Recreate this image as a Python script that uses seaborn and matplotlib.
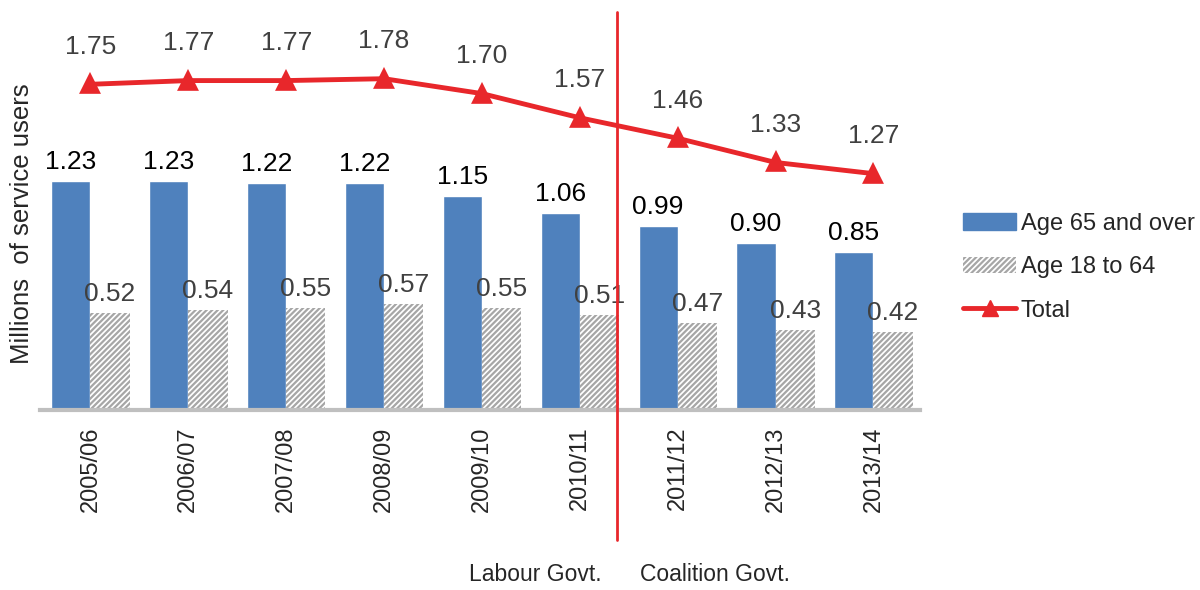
import matplotlib
matplotlib.use("Agg")
import matplotlib.pyplot as plt
import seaborn as sns
import pandas as pd
from matplotlib.patches import Patch
from matplotlib.lines import Line2D

years = ['2005/06', '2006/07', '2007/08', '2008/09', '2009/10',
         '2010/11', '2011/12', '2012/13', '2013/14']
age_65_over = [1.23, 1.23, 1.22, 1.22, 1.15, 1.06, 0.99, 0.90, 0.85]
age_18_64 = [0.52, 0.54, 0.55, 0.57, 0.55, 0.51, 0.47, 0.43, 0.42]
total = [1.75, 1.77, 1.77, 1.78, 1.70, 1.57, 1.46, 1.33, 1.27]
groups = ['Age 65 and over', 'Age 18 to 64']

blue = '#4F81BD'
red = '#E8272B'
hatch_grey = '#A6A6A6'
label_grey = '#404040'

df = pd.DataFrame({
    'year': years * 2,
    'group': [groups[0]] * len(years) + [groups[1]] * len(years),
    'value': age_65_over + age_18_64,
})

sns.set_style('white')
plt.rcParams['font.family'] = ['Liberation Sans', 'DejaVu Sans']
plt.rcParams['hatch.linewidth'] = 1.6

fig = plt.figure(figsize=(12, 5.9), dpi=100)
ax = fig.add_axes([0.033, 0.305, 0.734, 0.631])

sns.barplot(data=df, x='year', y='value', hue='group', order=years,
            hue_order=groups, palette=[blue, 'white'], width=0.8,
            saturation=1, legend=False, ax=ax)

# hatch the second series
for bar in ax.containers[1]:
    bar.set_hatch('//////')
    bar.set_edgecolor(hatch_grey)
    bar.set_linewidth(0)

ax.bar_label(ax.containers[0], labels=[f'{v:.2f}' for v in age_65_over],
             padding=5, fontsize=19, color='black')
ax.bar_label(ax.containers[1], labels=[f'{v:.2f}' for v in age_18_64],
             padding=5, fontsize=19, color=label_grey)

sns.pointplot(x=years, y=total, order=years, color=red, markers='^',
              linestyles='-', linewidth=3.5, markersize=12, ax=ax)

for i, v in enumerate(total):
    ax.annotate(f'{v:.2f}', (i, v), xytext=(0, 27), textcoords='offset points',
                ha='center', va='center', fontsize=19, color=label_grey)

ax.set_xlim(-0.52, 8.48)
ax.set_ylim(0, 2.0)
ax.set_yticks([])
ax.set_xlabel('')
ax.set_ylabel('Millions  of service users', fontsize=18.5, labelpad=4)
ax.tick_params(axis='x', labelrotation=90, labelsize=17, length=0, pad=12)
for side in ['top', 'right', 'left']:
    ax.spines[side].set_visible(False)
ax.spines['bottom'].set_color('#BFBFBF')
ax.spines['bottom'].set_linewidth(3)

# change of government marker
ax.plot([5.38, 5.38], [-0.70, 2.14], color=red, lw=2, clip_on=False, zorder=5)

fig.text(535 / 1200, 0.006, 'Labour Govt.', ha='center', va='bottom', fontsize=16.5)
fig.text(715 / 1200, 0.006, 'Coalition Govt.', ha='center', va='bottom', fontsize=16.5)

handles = [
    Patch(facecolor=blue, edgecolor=blue),
    Patch(facecolor='white', edgecolor=hatch_grey, hatch='//////', linewidth=0),
    Line2D([0], [0], color=red, lw=3.5, marker='^', markersize=12),
]
fig.legend(handles, groups + ['Total'], loc='center left',
           bbox_to_anchor=(0.8025, 0.547), frameon=False, fontsize=17,
           handlelength=2.25, handletextpad=0.2, labelspacing=0.9,
           borderpad=0, borderaxespad=0)

fig.savefig('out.png', dpi=100)
